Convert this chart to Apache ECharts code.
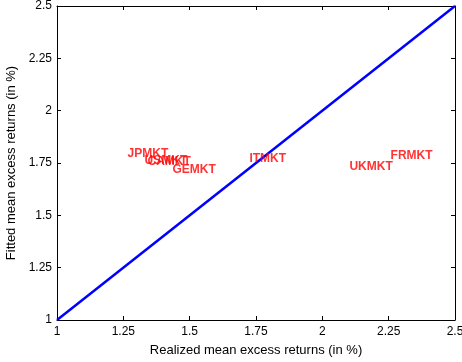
<!DOCTYPE html>
<html><head><meta charset="utf-8">
<script src="https://cdn.jsdelivr.net/npm/echarts@6/dist/echarts.min.js"></script>
<style>html,body{margin:0;padding:0;background:#fff}#c{width:462px;height:362px}</style>
</head><body><div id="c"></div>
<script>
const labels = ['JPMKT','CAMKT','USMKT','GEMKT','ITMKT','UKMKT','FRMKT'];
const realized = [1.268, 1.343, 1.332, 1.437, 1.727, 2.104, 2.259];
const fitted = [1.795, 1.757, 1.759, 1.716, 1.771, 1.731, 1.783];
const lineX = [1, 2.5];
const lineY = [1, 2.5];
const ticks = ['1','1.25','1.5','1.75','2','2.25','2.5'];

const chart = echarts.init(document.getElementById('c'), null, {renderer:'canvas'});
const font = 'Liberation Sans, Arial, sans-serif';
const baseAxis = {
  type:'value', min:1, max:2.5, interval:0.25,
  axisLine:{show:true, onZero:false, lineStyle:{color:'#000', width:1}},
  axisTick:{show:true, inside:true, length:4, lineStyle:{color:'#000'}},
  splitLine:{show:false}
};
chart.setOption({
  animation:false,
  grid:{left:57, top:6, right:7, bottom:42, containLabel:false, outerBoundsMode:'none'},
  xAxis:[
    Object.assign({}, baseAxis, {position:'bottom',
      axisLabel:{color:'#000', fontFamily:font, fontSize:12, margin:6,
        formatter:v=>ticks[Math.round((v-1)/0.25)]},
      name:'Realized mean excess returns (in %)', nameLocation:'middle', nameGap:24,
      nameTextStyle:{color:'#000', fontFamily:font, fontSize:13}}),
    Object.assign({}, baseAxis, {position:'top', axisLabel:{show:false}})
  ],
  yAxis:[
    Object.assign({}, baseAxis, {position:'left',
      axisLabel:{color:'#000', fontFamily:font, fontSize:12, margin:5,
        formatter:v=>ticks[Math.round((v-1)/0.25)]},
      name:'Fitted mean excess returns (in %)', nameLocation:'middle', nameGap:27,
      nameTextStyle:{color:'#000', fontFamily:font, fontSize:13}}),
    Object.assign({}, baseAxis, {position:'right', axisLabel:{show:false}})
  ],
  series:[
    {type:'line', data:lineX.map((x,i)=>[x,lineY[i]]), symbol:'none',
      lineStyle:{color:'#0000ff', width:2.5}, z:3},
    {type:'scatter', data:realized.map((x,i)=>[x,fitted[i],labels[i]]),
      symbol:'circle', symbolSize:1, itemStyle:{color:'rgba(0,0,0,0)'}, z:4,
      label:{show:true, position:'right', distance:0, offset:[-1,0], formatter:p=>p.data[2],
        color:'#ff0000', fontFamily:font, fontSize:12, fontWeight:'bold', verticalAlign:'middle'}}
  ]
});
</script></body></html>
